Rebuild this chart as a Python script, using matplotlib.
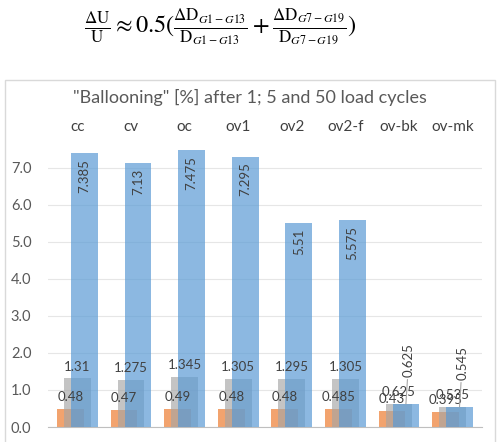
import matplotlib
matplotlib.use("Agg")
import matplotlib.pyplot as plt
from matplotlib.patches import Rectangle
import numpy as np

categories = ["cc", "cv", "oc", "ov1", "ov2", "ov2-f", "ov-bk", "ov-mk"]
cycles_1 = [0.48, 0.47, 0.49, 0.48, 0.48, 0.485, 0.43, 0.395]
cycles_5 = [1.31, 1.275, 1.345, 1.305, 1.295, 1.305, 0.625, 0.535]
cycles_50 = [7.385, 7.13, 7.475, 7.295, 5.51, 5.575, 0.625, 0.545]
yticks = [0, 1, 2, 3, 4, 5, 6, 7]

plt.rcParams['font.family'] = ['Lato', 'DejaVu Sans']
plt.rcParams['mathtext.fontset'] = 'stix'

fig = plt.figure(figsize=(5.0, 4.42), dpi=100)

# chart frame
fig.patches.append(Rectangle((0.01, -0.01), 0.98, 0.829, transform=fig.transFigure,
                             fill=False, edgecolor='#D9D9D9', linewidth=1.0))

# formula
fig.text(0.44, 0.94,
         r'$\frac{\Delta\mathrm{U}}{\mathrm{U}}\approx 0.5(\frac{\Delta\mathrm{D}_{G1-G13}}{\mathrm{D}_{G1-G13}}+\frac{\Delta\mathrm{D}_{G7-G19}}{\mathrm{D}_{G7-G19}})$',
         ha='center', va='center', fontsize=17.5, color='black')

ax = fig.add_axes([0.096, 0.0339, 0.868, 0.6709])
x = np.arange(len(categories))
w = 0.5
off = 0.13
ax.bar(x - off, cycles_1, w, color='#ED7D31', alpha=0.7, zorder=2)
ax.bar(x, cycles_5, w, color='#A5A5A5', alpha=0.65, zorder=3)
ax.bar(x + off, cycles_50, w, color='#5B9BD5', alpha=0.7, zorder=4)

ax.set_xlim(-0.55, len(categories) - 0.45)
ax.set_ylim(0, 8)
ax.set_yticks(yticks)
ax.set_yticklabels([f"{v:.1f}" for v in yticks])
ax.tick_params(axis='y', length=0, labelsize=10.5, labelcolor='#595959', pad=12)
ax.set_xticks([])
for s in ['top', 'right', 'left']:
    ax.spines[s].set_visible(False)
ax.spines['bottom'].set_color('#BFBFBF')
ax.yaxis.grid(True, color='#E6E6E6', linewidth=0.8, zorder=0)
ax.set_axisbelow(True)

lab = dict(fontsize=9.5, color='#404040', zorder=6)
for i in range(len(categories)):
    ax.annotate(f"{cycles_1[i]:g}", (x[i] - off, cycles_1[i]), xytext=(0, 8.6),
                textcoords='offset points', ha='center', va='center', **lab)
    ax.annotate(f"{cycles_5[i]:g}", (x[i], cycles_5[i]), xytext=(0, 8.6),
                textcoords='offset points', ha='center', va='center', **lab)
    if cycles_50[i] > 2:
        ax.annotate(f"{cycles_50[i]:g}", (x[i] + off, cycles_50[i]), xytext=(0, -4.3),
                    textcoords='offset points', ha='center', va='top', rotation=90, **lab)
    else:
        ax.annotate(f"{cycles_50[i]:g}", (x[i] + off, cycles_50[i]), xytext=(2, 19.5),
                    textcoords='offset points', ha='center', va='bottom', rotation=90,
                    arrowprops=dict(arrowstyle='-', color='#A6A6A6', lw=0.8,
                                    shrinkA=0, shrinkB=0), **lab)
    ax.text(x[i], 8.1, categories[i], ha='center', va='center', fontsize=11,
            color='#404040', clip_on=False)

fig.text(0.5, 0.7805, '"Ballooning" [%] after 1; 5 and 50 load cycles',
         ha='center', va='center', fontsize=13, color='#595959')

fig.savefig('out.png', dpi=100)
